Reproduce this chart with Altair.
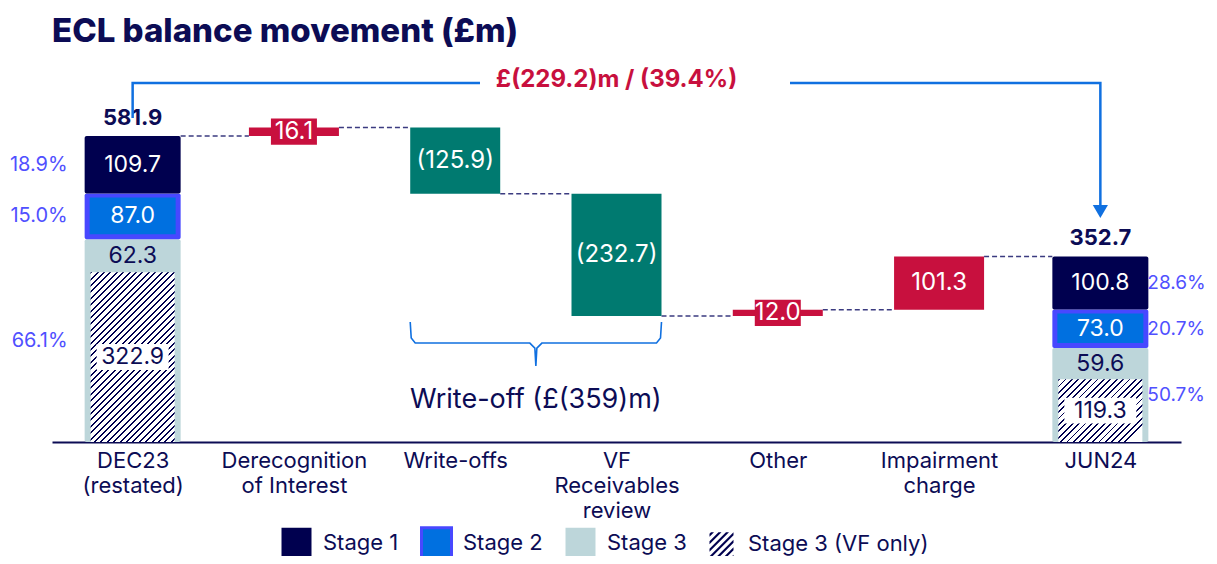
import json
import altair as alt
import pandas as pd

# ---------------- data ----------------
categories = ["DEC23\n(restated)", "Derecognition\nof Interest", "Write-offs",
              "VF\nReceivables\nreview", "Other", "Impairment\ncharge", "JUN24"]
stages = ["Stage 1", "Stage 2", "Stage 3", "Stage 3 (VF only)"]
dec23_stage_values = [109.7, 87.0, 62.3, 322.9]
jun24_stage_values = [100.8, 73.0, 59.6, 119.3]
dec23_pct = ["18.9%", "15.0%", "66.1%"]
jun24_pct = ["28.6%", "20.7%", "50.7%"]
movement_values = [16.1, -125.9, -232.7, 12.0, 101.3]
movement_labels = ["16.1", "(125.9)", "(232.7)", "12.0", "101.3"]
headline_change = "£(229.2)m / (39.4%)"
writeoff_note = "Write-off (£(359)m)"
chart_title = "ECL balance movement (£m)"

# ---------------- style / layout ----------------
FONT = "Inter"
NAVY = "#0c0c55"
BAR_NAVY = "#00004f"
BLUE = "#0070e0"
BORDER = "#4848ff"
LIGHT = "#bdd6da"
RED = "#c8103e"
TEAL = "#007a70"
PCT = "#5050ff"
ARROW = "#1070e0"
DASH = "#3b3b80"

PLOT_W, PLOT_H = 1129, 384
Y_MAX = 730.0
N = len(categories)
STEP = PLOT_W / N
PPU = PLOT_H / Y_MAX
HW_END = 48 / STEP
HW_MID = 45 / STEP
HATCH_INSET = 6 / STEP


def ux(px):
    return px / STEP


def uy(px):
    return px / PPU


XS = alt.Scale(domain=[-0.5, N - 0.5], nice=False, zero=False)
YS = alt.Scale(domain=[0, Y_MAX], nice=False, zero=False)
label_arrays = [c.split("\n") for c in categories]
XAXIS = alt.Axis(values=list(range(N)), labelExpr=json.dumps(label_arrays).replace('"', "'") + "[datum.value]",
                 title=None, grid=False, ticks=False, domainColor=NAVY, domainWidth=2,
                 labelFontSize=22, labelColor=NAVY, labelFont=FONT, labelPadding=8,
                 labelLineHeight=25, labelOverlap=False, labelBound=False, labelFlush=False)


def X(f):
    return alt.X(f"{f}:Q", scale=XS, axis=XAXIS)


def Y(f):
    return alt.Y(f"{f}:Q", scale=YS, axis=None)


# ---------------- derived tables ----------------
seg_rows, pct_rows, total_rows = [], [], []
for idx, vals, pcts, side in [(0, dec23_stage_values, dec23_pct, "L"), (N - 1, jun24_stage_values, jun24_pct, "R")]:
    s1, s2, s3, vf = vals
    top3 = vf + s3
    top2 = top3 + s2
    top1 = top2 + s1
    x, x2 = idx - HW_END, idx + HW_END
    seg_rows += [
        dict(idx=idx, stage=stages[0], lo=top2, hi=top1, mid=(top2 + top1) / 2, label=f"{s1:.1f}", x=x, x2=x2),
        dict(idx=idx, stage=stages[1], lo=top3, hi=top2, mid=(top3 + top2) / 2, label=f"{s2:.1f}", x=x, x2=x2),
        dict(idx=idx, stage=stages[2], lo=0, hi=top3, mid=(vf + top3) / 2, label=f"{s3:.1f}", x=x, x2=x2),
        dict(idx=idx, stage=stages[3], lo=0, hi=vf, mid=vf / 2, label=f"{vf:.1f}",
             x=x + HATCH_INSET, x2=x2 - HATCH_INSET),
    ]
    pct_rows += [
        dict(idx=idx, side=side, pct=pcts[0], y=(top2 + top1) / 2),
        dict(idx=idx, side=side, pct=pcts[1], y=(top3 + top2) / 2),
        dict(idx=idx, side=side, pct=pcts[2], y=top3 / 2),
    ]
    total_rows.append(dict(idx=idx, total=top1, label=f"{top1:.1f}"))
seg = pd.DataFrame(seg_rows)
pct = pd.DataFrame(pct_rows)
totals = pd.DataFrame(total_rows)

# waterfall movements
mv_rows = []
level = totals.loc[0, "total"]
levels = [level]
for i, (v, lab) in enumerate(zip(movement_values, movement_labels)):
    start, end = level, level + v
    mv_rows.append(dict(idx=i + 1, start=start, end=end, mid=(start + end) / 2, label=lab, up=v > 0,
                        small=abs(v) < 30, x=i + 1 - HW_MID, x2=i + 1 + HW_MID))
    level = end
    levels.append(level)
mv = pd.DataFrame(mv_rows)

# connectors
conn_rows = []
for i in range(N - 1):
    hw_a = HW_END if i == 0 else HW_MID
    hw_b = HW_END if i + 1 == N - 1 else HW_MID
    conn_rows.append(dict(x=i + hw_a, x2=i + 1 - hw_b, y=levels[i]))
conn = pd.DataFrame(conn_rows)

# top bracket
BR_Y = totals.loc[0, "total"] + uy(53)
br = pd.DataFrame([
    dict(part="a", o=0, x=0, y=totals.loc[0, "total"] + uy(18)),
    dict(part="a", o=1, x=0, y=BR_Y),
    dict(part="a", o=2, x=ux(428) - 0.5, y=BR_Y),
    dict(part="b", o=0, x=ux(738) - 0.5, y=BR_Y),
    dict(part="b", o=1, x=N - 1, y=BR_Y),
    dict(part="b", o=2, x=N - 1, y=totals.loc[1, "total"] + uy(50)),
])
arrow = pd.DataFrame([dict(x=N - 1, y=totals.loc[1, "total"] + uy(45))])
headline = pd.DataFrame([dict(x=3, y=BR_Y + uy(3), t=headline_change)])

# brace under write-offs
L, R = 2 - HW_MID, 3 + HW_MID
M = (L + R) / 2
b_top = levels[3] - uy(6)
b_bot = levels[3] - uy(27)
b_tip = levels[3] - uy(50)
brace = pd.DataFrame([
    dict(o=0, x=L, y=b_top), dict(o=1, x=L + ux(1), y=b_bot + uy(5)), dict(o=2, x=L + ux(5), y=b_bot),
    dict(o=3, x=M - ux(6), y=b_bot), dict(o=4, x=M - ux(1), y=b_bot - uy(5)), dict(o=5, x=M, y=b_tip),
    dict(o=6, x=M + ux(1), y=b_bot - uy(5)), dict(o=7, x=M + ux(6), y=b_bot),
    dict(o=8, x=R - ux(5), y=b_bot), dict(o=9, x=R - ux(1), y=b_bot + uy(5)), dict(o=10, x=R, y=b_top),
])
note = pd.DataFrame([dict(x=M, y=levels[3] - uy(84), t=writeoff_note)])

legend_df = pd.DataFrame(dict(stage=stages, x=[0] * 4, y=[0] * 4))


# ---------------- hatch helpers ----------------
def hatch_gradient(w_px, h_px, period=6.4, duty=0.3):
    k = h_px / w_px
    n = w_px * (1 + k * k) / period
    stops = []
    i = 0
    while i / n < 1:
        a, b, c = i / n, min((i + duty) / n, 1), min((i + 1) / n, 1)
        stops += [dict(offset=a, color=BAR_NAVY), dict(offset=b, color=BAR_NAVY),
                  dict(offset=b, color="#ffffff"), dict(offset=c, color="#ffffff")]
        i += 1
    return dict(gradient="linear", x1=0, y1=0, x2=1, y2=k, stops=stops)


def clip_poly(poly, fn):
    out = []
    for j in range(len(poly)):
        p, q = poly[j], poly[(j + 1) % len(poly)]
        fp, fq = fn(p), fn(q)
        if fp >= 0:
            out.append(p)
        if (fp >= 0) != (fq >= 0):
            t = fp / (fp - fq)
            out.append((p[0] + t * (q[0] - p[0]), p[1] + t * (q[1] - p[1])))
    return out


def hatch_symbol(period=0.5, width=0.2):
    sq = [(-0.8, -0.8), (0.8, -0.8), (0.8, 0.8), (-0.8, 0.8)]
    parts = []
    c = -2.0
    while c < 2.0:
        poly = clip_poly(sq, lambda p, c=c: p[0] + p[1] - c)
        poly = clip_poly(poly, lambda p, c=c: c + width - (p[0] + p[1]))
        if len(poly) >= 3:
            parts.append("M" + "L".join(f"{x:.3f},{y:.3f}" for x, y in poly) + "Z")
        c += period
    return "".join(parts)


RECT_SMALL = "M-1,-0.57L1,-0.57L1,0.57L-1,0.57Z"
RECT_WIDE = "M-1,-0.36L1,-0.36L1,0.36L-1,0.36Z"

# ---------------- layers ----------------
layers = []
base_seg = alt.Chart(seg)
layers.append(base_seg.transform_filter(f"datum.stage == '{stages[2]}'").mark_bar(
    color=LIGHT, cornerRadius=2).encode(x=X("x"), x2="x2", y=Y("lo"), y2="hi"))
for idx, vals in [(0, dec23_stage_values), (N - 1, jun24_stage_values)]:
    w_px = 2 * (HW_END - HATCH_INSET) * STEP
    h_px = vals[3] * PPU
    layers.append(base_seg.transform_filter(f"datum.stage == '{stages[3]}' && datum.idx == {idx}").mark_bar(
        fill=hatch_gradient(w_px, h_px)).encode(x=X("x"), x2="x2", y=Y("lo"), y2="hi"))
layers.append(base_seg.transform_filter(f"datum.stage == '{stages[1]}'").mark_bar(
    color=BORDER, cornerRadius=2).encode(x=X("x"), x2="x2", y=Y("lo"), y2="hi"))
layers.append(base_seg.transform_filter(f"datum.stage == '{stages[1]}'").transform_calculate(
    xi=f"datum.x + {ux(5)}", xi2=f"datum.x2 - {ux(5)}", loi=f"datum.lo + {uy(5)}", hii=f"datum.hi - {uy(4)}"
).mark_bar(color=BLUE).encode(x=X("xi"), x2="xi2", y=Y("loi"), y2="hii"))
layers.append(base_seg.transform_filter(f"datum.stage == '{stages[0]}'").mark_bar(
    color=BAR_NAVY, cornerRadius=2).encode(x=X("x"), x2="x2", y=Y("lo"), y2="hi"))
layers.append(base_seg.transform_filter(f"datum.stage == '{stages[3]}'").mark_point(
    shape=RECT_WIDE, filled=True, size=72 * 72, color="white", opacity=1).encode(x=X("idx"), y=Y("mid")))
layers.append(base_seg.mark_text(font=FONT, fontSize=23, baseline="middle").encode(
    x=X("idx"), y=Y("mid"), text="label:N",
    color=alt.condition(f"datum.stage == '{stages[0]}' || datum.stage == '{stages[1]}'",
                        alt.value("white"), alt.value(NAVY))))

# totals
layers.append(alt.Chart(totals).mark_text(font=FONT, fontSize=22, fontWeight="bold", color=NAVY,
                                          baseline="bottom", dy=-6).encode(x=X("idx"), y=Y("total"), text="label:N"))
# percentages
layers.append(alt.Chart(pct).transform_filter("datum.side == 'L'").mark_text(
    font=FONT, fontSize=20, color=PCT, align="right", baseline="middle", dx=-65).encode(
    x=X("idx"), y=Y("y"), text="pct:N"))
layers.append(alt.Chart(pct).transform_filter("datum.side == 'R'").mark_text(
    font=FONT, fontSize=19, color=PCT, align="left", baseline="middle", dx=47).encode(
    x=X("idx"), y=Y("y"), text="pct:N"))

# connectors
layers.append(alt.Chart(conn).mark_rule(color=DASH, strokeWidth=1.5, strokeDash=[5, 3]).encode(
    x=X("x"), x2="x2", y=Y("y")))

# waterfall bars
base_mv = alt.Chart(mv)
layers.append(base_mv.mark_bar().encode(
    x=X("x"), x2="x2", y=Y("start"), y2="end",
    color=alt.condition("datum.up", alt.value(RED), alt.value(TEAL))))
layers.append(base_mv.transform_filter("datum.small").mark_point(
    shape=RECT_SMALL, filled=True, size=46 * 46, color=RED, opacity=1).encode(x=X("idx"), y=Y("mid")))
layers.append(base_mv.mark_text(font=FONT, fontSize=24, color="white", baseline="middle").encode(
    x=X("idx"), y=Y("mid"), text="label:N"))

# top bracket + arrow + headline
layers.append(alt.Chart(br).mark_line(color=ARROW, strokeWidth=2.5).encode(
    x=X("x"), y=Y("y"), detail="part:N", order="o:Q"))
layers.append(alt.Chart(arrow).mark_point(shape="triangle-down", filled=True, size=230, color=ARROW,
                                          opacity=1).encode(x=X("x"), y=Y("y")))
layers.append(alt.Chart(headline).mark_text(font=FONT, fontSize=24, fontWeight="bold", color=RED,
                                            baseline="middle").encode(x=X("x"), y=Y("y"), text="t:N"))
# brace + note
layers.append(alt.Chart(brace).mark_line(color=ARROW, strokeWidth=1.6).encode(
    x=X("x"), y=Y("y"), order="o:Q"))
layers.append(alt.Chart(note).mark_text(font=FONT, fontSize=27, color=NAVY, baseline="middle").encode(
    x=X("x"), y=Y("y"), text="t:N"))

# legend (driven by stage names)
LEG = alt.Legend(title=None, orient="none", legendX=228, legendY=468, direction="horizontal",
                 labelFontSize=22, labelFont=FONT, labelColor=NAVY, symbolSize=900, symbolOpacity=1,
                 symbolStrokeWidth=3, columnPadding=16, labelOffset=10, padding=0, labelLimit=400)
layers.append(alt.Chart(legend_df).mark_point(filled=True, opacity=0).encode(
    x=X("x"), y=Y("y"),
    color=alt.Color("stage:N", scale=alt.Scale(domain=stages, range=[BAR_NAVY, BLUE, LIGHT, BAR_NAVY]), legend=LEG),
    shape=alt.Shape("stage:N", scale=alt.Scale(domain=stages, range=["square", "square", "square", hatch_symbol()]),
                    legend=LEG),
    stroke=alt.Stroke("stage:N", scale=alt.Scale(domain=stages,
                                                 range=["transparent", BORDER, "transparent", "transparent"]),
                      legend=LEG),
))

chart = alt.layer(*layers).properties(
    width=PLOT_W, height=PLOT_H,
    padding={"left": 44, "top": 50, "right": 28, "bottom": 114},
    autosize=alt.AutoSizeParams(type="none"),
    title=alt.TitleParams(text=chart_title, anchor="start", frame="group", font=FONT, fontSize=33,
                          fontWeight=800, color=NAVY, offset=9),
).configure_view(stroke=None)

chart.save("out.html", embed_options={"renderer": "svg", "actions": False})
